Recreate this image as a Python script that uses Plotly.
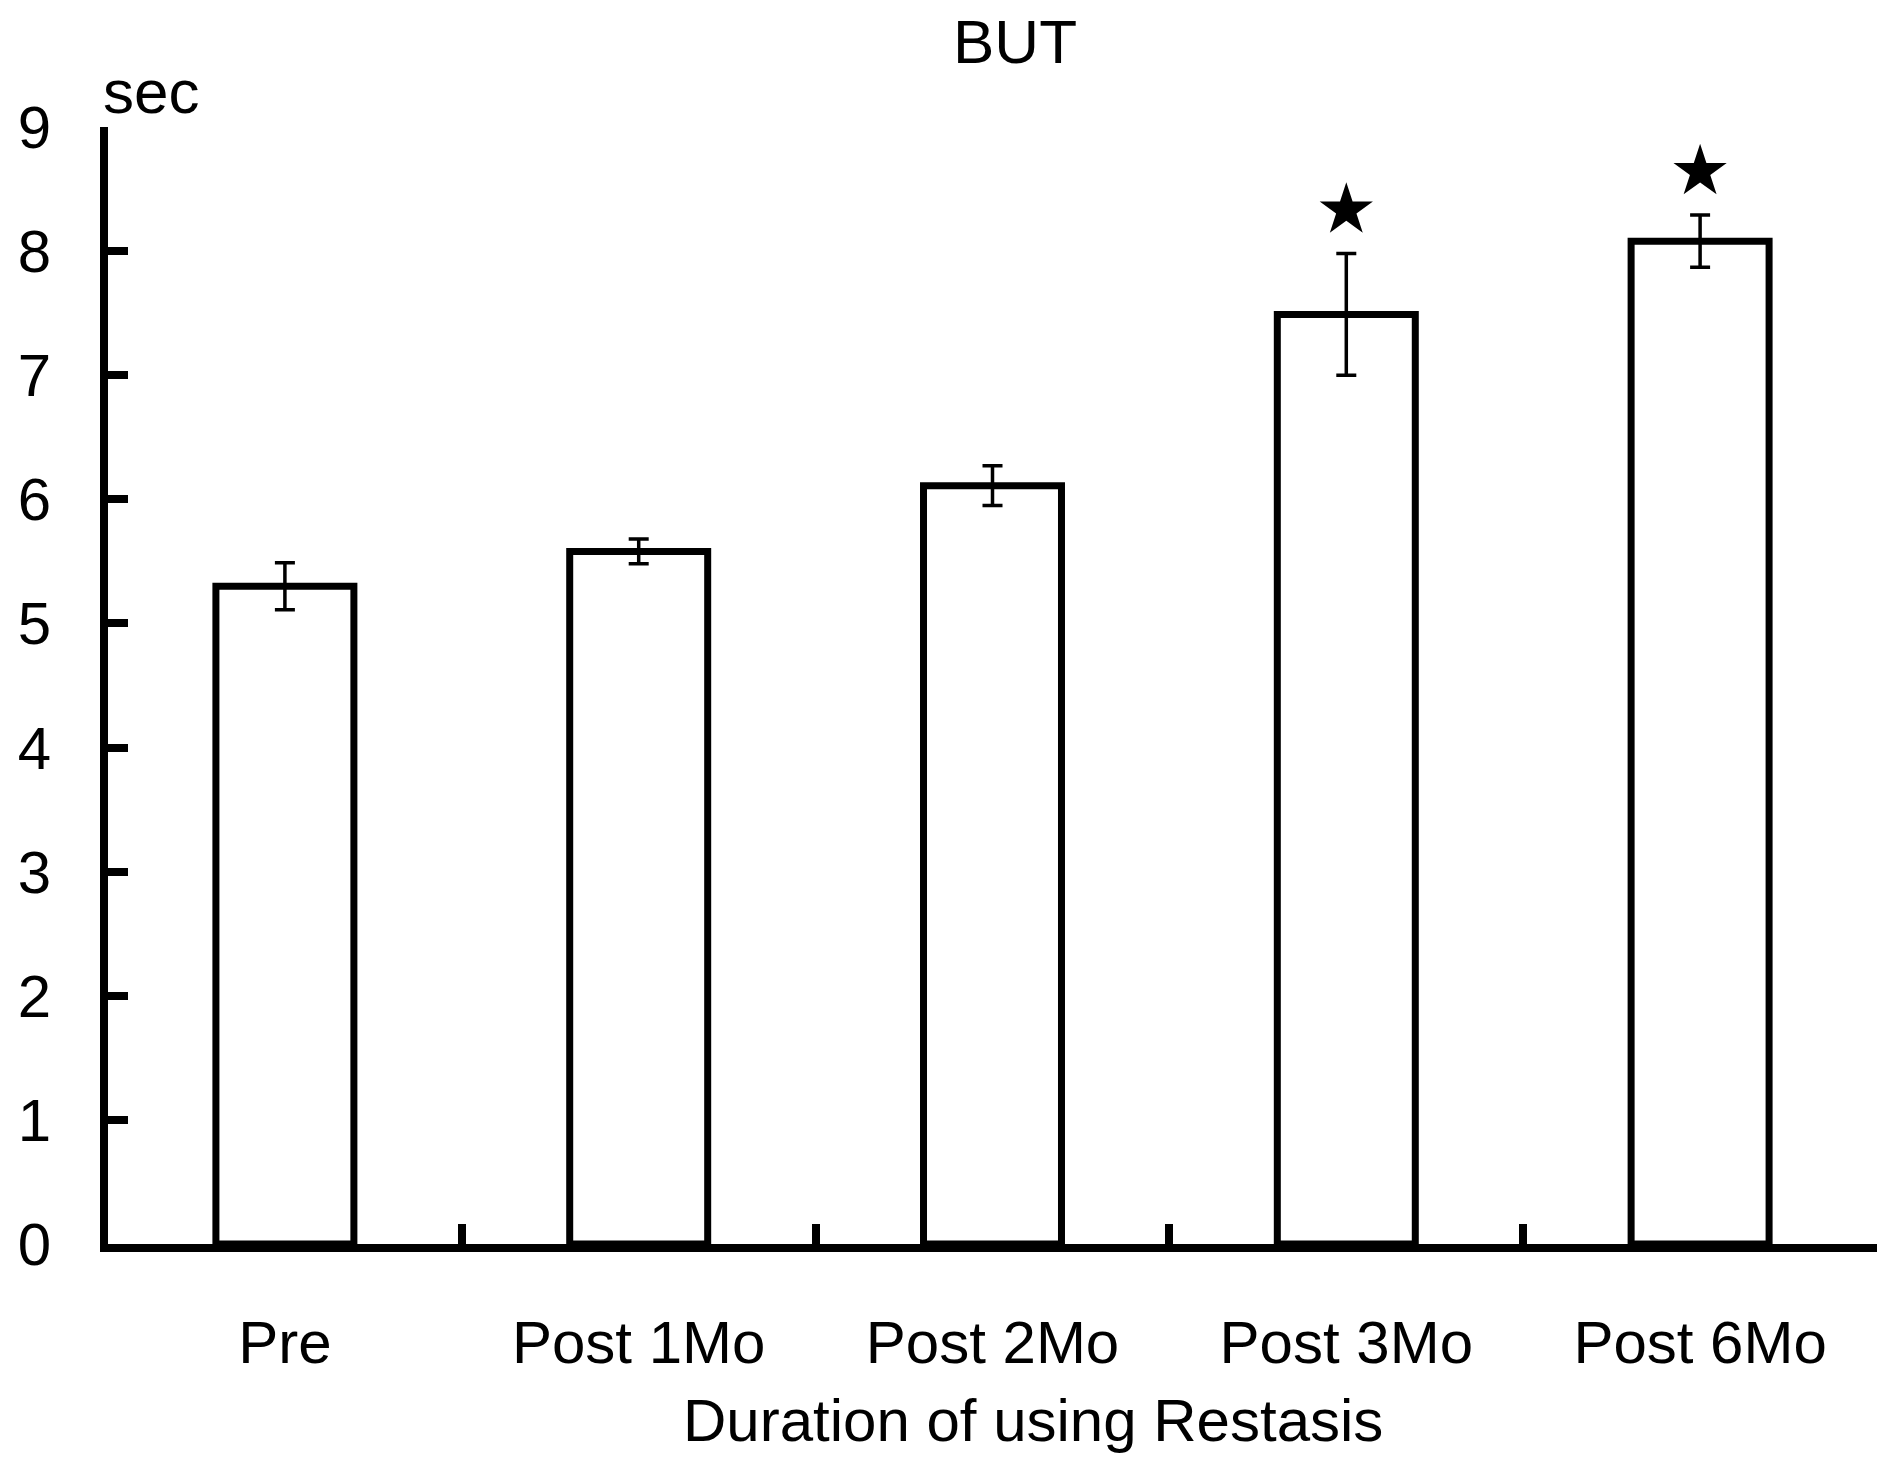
import plotly.graph_objects as go

categories = ["Pre", "Post 1Mo", "Post 2Mo", "Post 3Mo", "Post 6Mo"]
means = [5.30, 5.58, 6.11, 7.49, 8.08]
errors = [0.19, 0.10, 0.16, 0.49, 0.21]
significant = [False, False, False, True, True]
y_ticks = [0, 1, 2, 3, 4, 5, 6, 7, 8, 9]

FONT = "Liberation Sans, Arial, sans-serif"
FS = 60
STAR_OFFSET = 0.35

W, H = 1879, 1451
L, R, T, B = 100, 10, 119, 215
PW, PH = W - L - R, H - T - B

fig = go.Figure()
fig.add_trace(go.Bar(
    x=categories, y=means,
    marker=dict(color="white", line=dict(color="black", width=7)),
    error_y=dict(type="data", array=errors, visible=True,
                 color="black", thickness=3.5, width=10),
    showlegend=False,
))

star_x = [c for c, s in zip(categories, significant) if s]
star_y = [m + e + STAR_OFFSET for m, e, s in zip(means, errors, significant) if s]
fig.add_trace(go.Scatter(
    x=star_x, y=star_y, mode="markers",
    marker=dict(symbol="star", size=40, color="black", line=dict(width=0)),
    showlegend=False,
))

fig.update_layout(
    width=W, height=H,
    paper_bgcolor="white", plot_bgcolor="white",
    margin=dict(l=L, r=R, t=T, b=B),
    bargap=0.61,
    font=dict(family=FONT, size=FS, color="black"),
    title=dict(text="BUT", x=1007/W, y=1-33/H, xanchor="center", yanchor="middle",
               xref="container", yref="container",
               font=dict(family=FONT, size=62, color="black")),
    xaxis=dict(
        type="category", range=[-0.5, 4.5], automargin=False,
        showline=True, linewidth=8, linecolor="black",
        ticks="inside", tickson="boundaries", ticklen=20, tickwidth=8, tickcolor="black",
        showgrid=False, zeroline=False,
        tickfont=dict(family=FONT, size=FS, color="black"),
        ticklabelstandoff=39,
    ),
    yaxis=dict(
        range=[0, 9], tickvals=y_ticks, automargin=False,
        showline=True, linewidth=8, linecolor="black",
        ticks="inside", ticklen=20, tickwidth=8, tickcolor="black",
        showgrid=False, zeroline=False,
        tickfont=dict(family=FONT, size=FS, color="black"),
        ticklabelstandoff=37,
    ),
    annotations=[
        dict(text="sec", xref="paper", yref="paper", x=(143-L)/PW, y=1+(T-84)/PH,
             xanchor="center", yanchor="middle", showarrow=False,
             font=dict(family=FONT, size=62, color="black")),
        dict(text="Duration of using Restasis", xref="paper", yref="paper",
             x=(1025-L)/PW, y=-(1412-(T+PH))/PH,
             xanchor="center", yanchor="middle", showarrow=False,
             font=dict(family=FONT, size=FS, color="black")),
    ],
)

fig.write_html("out.html", config={"displayModeBar": False})
